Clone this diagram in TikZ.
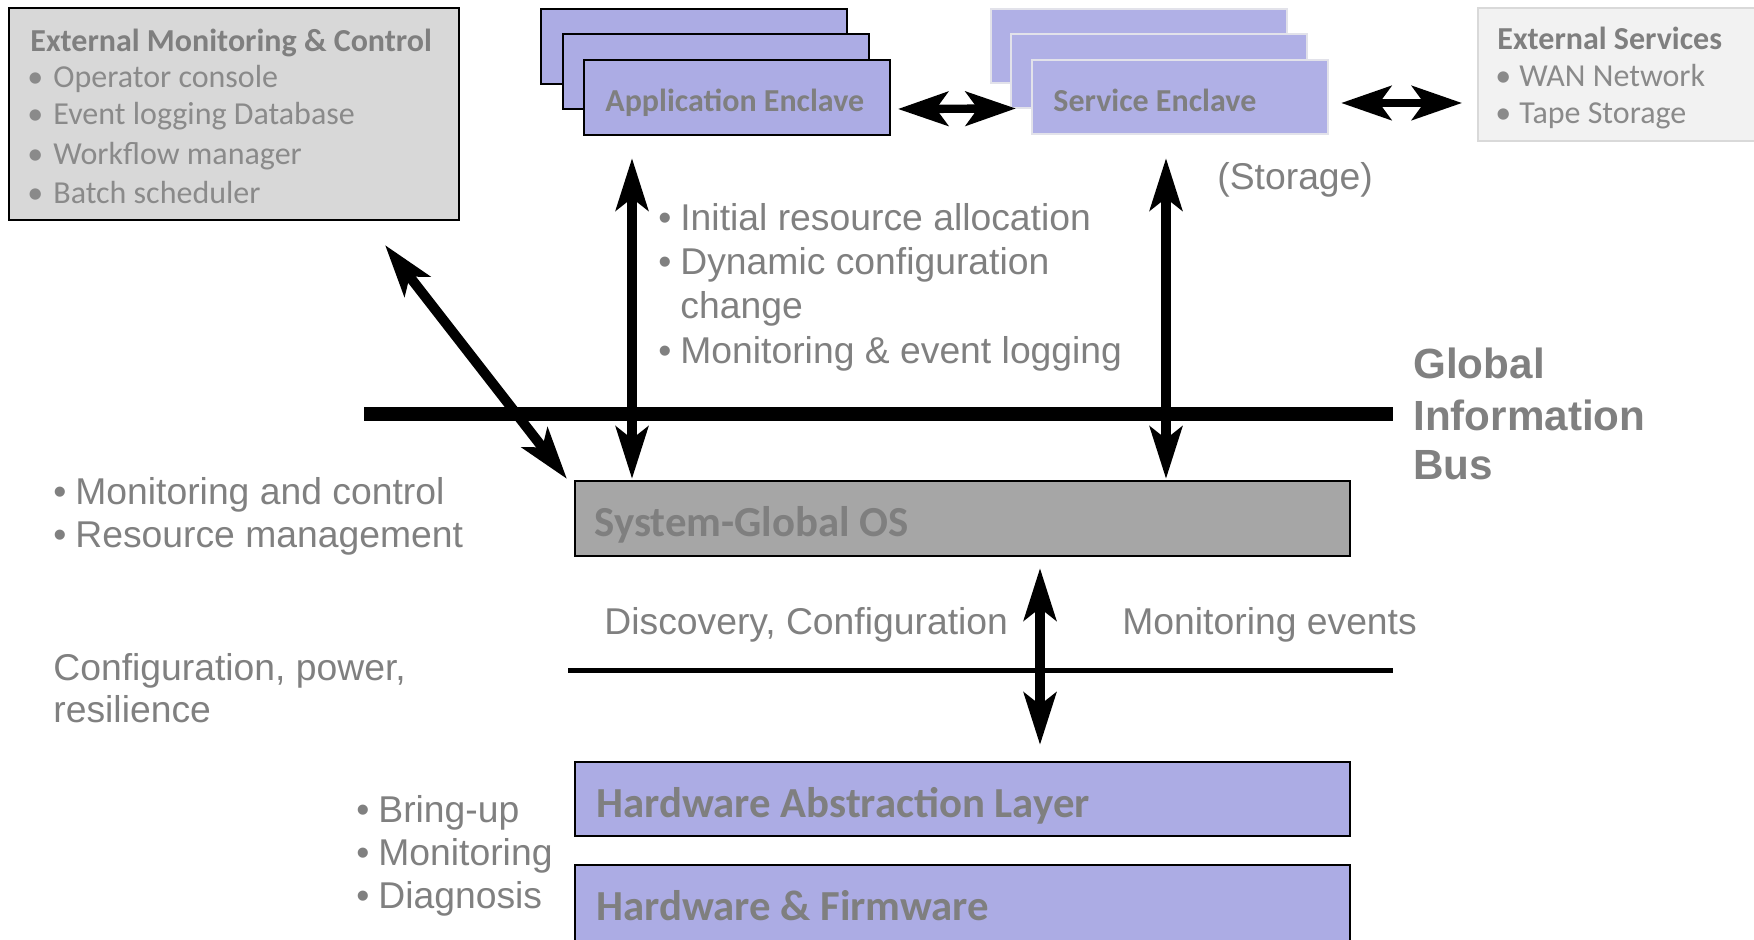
\documentclass[tikz,border=0pt]{standalone}
\usepackage{fontspec}
\setmainfont{Liberation Sans}
\newfontfamily\calfont{Carlito}
\usetikzlibrary{arrows.meta}

\definecolor{txtgray}{HTML}{808080}
\definecolor{titlegray}{HTML}{7F7F7F}
\definecolor{itemgray}{HTML}{8A8A8A}
\definecolor{lavender}{HTML}{ACACE4}
\definecolor{lavlight}{HTML}{B0B0E6}
\definecolor{lavedge}{HTML}{E2E2EA}
\definecolor{panelgray}{HTML}{D8D8D8}
\definecolor{osgray}{HTML}{A6A6A6}
\definecolor{extfill}{HTML}{F2F2F2}
\definecolor{extline}{HTML}{D9D9D9}

\newcommand\itemdot[1]{\makebox[#1][l]{•}}

\begin{document}
\begin{tikzpicture}[x=0.5pt,y=-0.5pt,
  box/.style={rectangle, inner sep=0pt, draw=black, line width=1pt},
  appbox/.style={box, fill=lavender, minimum width=153pt, minimum height=37.5pt},
  svcbox/.style={rectangle, inner sep=0pt, draw=lavedge, line width=1.2pt, fill=lavlight,
                 minimum width=148pt, minimum height=37pt},
  layer/.style={box, minimum width=387.5pt},
  txt/.style={inner sep=0pt, anchor=base west, text=txtgray, font=\fontsize{18.65}{22}\selectfont},
  small/.style={inner sep=0pt, anchor=base west, text=itemgray, font=\calfont\fontsize{16}{19}\selectfont},
  smallhead/.style={small, text=titlegray, font=\calfont\bfseries\fontsize{16}{19}\selectfont},
  heavy/.style={inner sep=0pt, anchor=base west, text=titlegray, font=\calfont\bfseries\fontsize{21.4}{25}\selectfont},
  buslabel/.style={inner sep=0pt, anchor=base west, text=txtgray, font=\bfseries\fontsize{21.1}{25}\selectfont},
  biglink/.style={line width=5pt,
    {Stealth[length=26pt,width=16pt,inset=6pt]}-{Stealth[length=26pt,width=16pt,inset=6pt]}},
  sidelink/.style={line width=4.2pt,
    {Stealth[length=25pt,width=17pt,inset=6pt]}-{Stealth[length=25pt,width=17pt,inset=6pt]}},
]
\useasboundingbox (0,0) rectangle (1754,940);

% external monitoring panel
\node[box, fill=panelgray, minimum width=225pt, minimum height=106pt] (emc) at (234,114) {};
\node[smallhead] (emct) at (30,52) {External Monitoring \& Control};
\node[small] (emc1) at (27,88) {\itemdot{13pt}Operator console};
\node[small] (emc2) at (27,125) {\itemdot{13pt}Event logging Database};
\node[small] (emc3) at (27,165) {\itemdot{13pt}Workflow manager};
\node[small] (emc4) at (27,204) {\itemdot{13pt}Batch scheduler};

% application enclaves (stacked)
\node[appbox] (app1) at (694,46.5) {};
\node[appbox] (app2) at (716,71.5) {};
\node[appbox] (app3) at (737,97.5) {};
\node[smallhead] (appt) at (605,112) {Application Enclave};

% service enclaves (stacked)
\node[svcbox] (svc1) at (1139,46) {};
\node[svcbox] (svc2) at (1159,71) {};
\node[svcbox] (svc3) at (1180,97) {};
\node[smallhead] (svct) at (1053,112) {Service Enclave};
\node[txt] (stor) at (1217,190) {(Storage)};

% external services panel
\node[rectangle, inner sep=0pt, draw=extline, line width=1pt, fill=extfill,
      minimum width=141pt, minimum height=66.5pt] (ext) at (1619,74.5) {};
\node[smallhead] (extt) at (1497,50) {External Services};
\node[small] (ext1) at (1495,87) {\itemdot{12pt}WAN Network};
\node[small] (ext2) at (1495,124) {\itemdot{12pt}Tape Storage};

% OS and hardware layers
\node[layer, fill=osgray, minimum height=37.5pt] (os) at (962.5,518.5) {};
\node[heavy] (ost) at (594,536) {System-Global OS};
\node[layer, fill=lavender, minimum height=37pt] (hal) at (962.5,799) {};
\node[heavy] (halt) at (596,817) {Hardware Abstraction Layer};
\node[layer, fill=lavender, minimum height=40pt] (hw) at (962.5,905) {};
\node[heavy] (hwt) at (596,920) {Hardware \& Firmware};

% global information bus
\coordinate (busL) at (364,414);
\coordinate (busR) at (1393,414);
\draw[line width=7pt] (busL) -- (busR);
\node[buslabel] (gib1) at (1413,379) {Global};
\node[buslabel] (gib2) at (1413,430) {Information};
\node[buslabel] (gib3) at (1413,480) {Bus};

% lower bus
\coordinate (lowL) at (568,670);
\coordinate (lowR) at (1393,670);
\draw[line width=2.5pt] (lowL) -- (lowR);

% connectors
\coordinate (appDown) at (632,158);
\coordinate (osAppIn) at (632,479);
\coordinate (svcDown) at (1166,158);
\coordinate (osSvcIn) at (1166,479);
\coordinate (emcEnd) at (385,245);
\coordinate (osCorner) at (567,479);
\coordinate (osUp) at (1040,568);
\coordinate (halUp) at (1040,745);

\draw[biglink] (appDown) -- (osAppIn);
\draw[biglink] (svcDown) -- (osSvcIn);
\draw[biglink] (emcEnd) -- (osCorner);
\draw[biglink] (osUp) -- (halUp);
\draw[sidelink] ([shift={(7,11.5)}]app3.east) -- ([shift={(-15,11.5)}]svc3.west);
\draw[sidelink] ([shift={(12,6)}]svc3.east) -- ([shift={(-15,28.5)}]ext.west);

% annotations
\node[txt] (n1) at (658,231) {\itemdot{11pt}Initial resource allocation};
\node[txt] (n2) at (658,275) {\itemdot{11pt}Dynamic configuration};
\node[txt] (n3) at (680,319) {change};
\node[txt] (n4) at (658,364) {\itemdot{11pt}Monitoring \& event logging};

\node[txt] (m1) at (53,504) {\itemdot{11pt}Monitoring and control};
\node[txt] (m2) at (53,547) {\itemdot{11pt}Resource management};

\node[txt] (c1) at (53,680) {Configuration, power,};
\node[txt] (c2) at (53,722) {resilience};

\node[txt] (d1) at (604,634) {Discovery, Configuration};
\node[txt] (d2) at (1122,634) {Monitoring events};

\node[txt] (b1) at (356,822) {\itemdot{11pt}Bring-up};
\node[txt] (b2) at (356,865) {\itemdot{11pt}Monitoring};
\node[txt] (b3) at (356,908) {\itemdot{11pt}Diagnosis};
\end{tikzpicture}
\end{document}
